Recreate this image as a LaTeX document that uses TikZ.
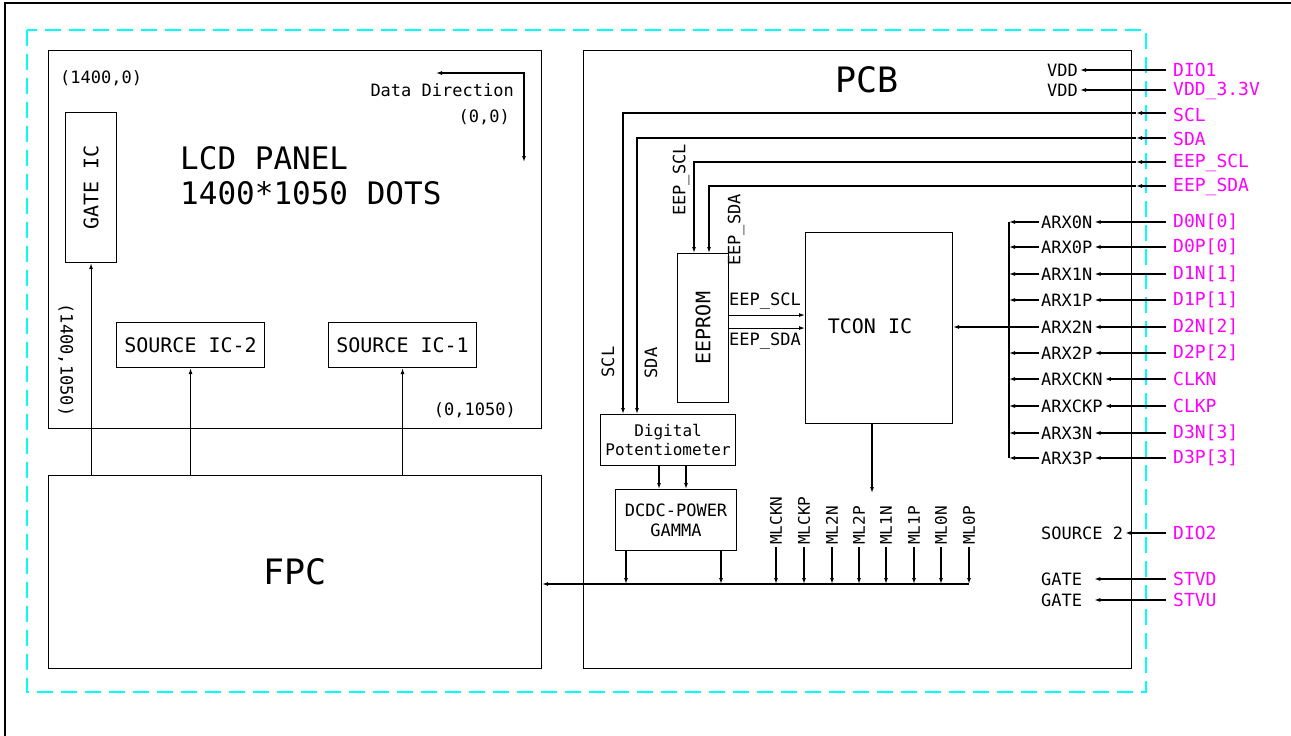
\documentclass[tikz,border=0pt]{standalone}
\usepackage{fontspec}
\newfontfamily\cadf{DejaVu Sans Mono}
\usetikzlibrary{arrows.meta,calc}
\definecolor{cadcyan}{RGB}{0,255,255}
\definecolor{cadmag}{RGB}{255,0,255}
\tikzset{
  box/.style={draw, line width=1.1pt, inner sep=0pt, anchor=north west},
  wire/.style={line width=1.1pt},
  arr/.style={wire, -{Latex[length=6pt,width=4pt]}},
  darr/.style={wire, {Latex[length=6pt,width=4pt]}-{Latex[length=6pt,width=4pt]}},
  ts/.style={font=\cadf\fontsize{16}{19}\selectfont, inner sep=2pt},
  tm/.style={font=\cadf\fontsize{17}{20}\selectfont, inner sep=2pt},
  tb/.style={font=\cadf\fontsize{20}{23}\selectfont, inner sep=2pt},
  tl/.style={font=\cadf\fontsize{31}{34}\selectfont, inner sep=0pt},
  tx/.style={font=\cadf\fontsize{35}{38}\selectfont, inner sep=0pt},
  mag/.style={font=\cadf\fontsize{18}{21}\selectfont, text=cadmag, inner sep=2pt, anchor=west},
}
\begin{document}
\begin{tikzpicture}[x=1pt,y=-1pt]
\useasboundingbox (0,0) rectangle (1291,736);
% outer frame and dashed outline
\draw[line width=1.6pt] (5,740) -- (5,3) -- (1295,3);
\draw[cadcyan, line width=1.4pt, dash pattern=on 16pt off 8pt] (27,30) rectangle (1146,692);

% ---------- LCD panel ----------
\node[box, minimum width=493pt, minimum height=378pt] (lcd) at (48,50) {};
\node[tm, anchor=west] (c1) at (58,78) {(1400,0)};
\node[tm, anchor=east] (dd) at (516,90) {Data Direction};
\node[tm, anchor=east] (c2) at (512,117) {(0,0)};
\coordinate (dd1) at (436,73);
\coordinate (dd2) at (524,73);
\coordinate (dd3) at (524,162);
\draw[darr] (dd1) -- (dd2) -- (dd3);
\node[tl, anchor=west] (lcdt1) at (180,158) {LCD PANEL};
\node[tl, anchor=west] (lcdt2) at (180,193) {1400*1050 DOTS};
\node[tm, rotate=-90] (c3) at (66,360) {(1400,1050)};
\node[tm, anchor=east] (c4) at (518,410) {(0,1050)};

\node[box, minimum width=51pt, minimum height=150pt] (gate) at (65,112) {};
\node[tb, rotate=90] (gatet) at (gate.center) {GATE IC};
\node[box, minimum width=148pt, minimum height=45pt] (sic2) at (116,322) {};
\node[tb] (sic2t) at (sic2.center) {SOURCE IC-2};
\node[box, minimum width=148pt, minimum height=45pt] (sic1) at (328,322) {};
\node[tb] (sic1t) at (sic1.center) {SOURCE IC-1};

% ---------- FPC ----------
\node[box, minimum width=493pt, minimum height=193pt] (fpc) at (48,475) {};
\node[tx] (fpct) at (fpc.center) {FPC};
\draw[arr] (gate.south |- fpc.north) -- (gate.south);
\draw[arr] (sic2.south |- fpc.north) -- (sic2.south);
\draw[arr] (sic1.south |- fpc.north) -- (sic1.south);

% ---------- PCB ----------
\node[box, minimum width=548pt, minimum height=618pt] (pcb) at (583,50) {};
\node[tx] (pcbt) at (867,80) {PCB};

\node[box, minimum width=51pt, minimum height=149pt] (eeprom) at (677,253) {};
\node[tb, rotate=90] (eepromt) at (eeprom.center) {EEPROM};
\node[box, minimum width=147pt, minimum height=191pt] (tcon) at (805,232) {};
\node[tb] (tcont) at (870,326) {TCON IC};
\node[box, minimum width=135pt, minimum height=51pt] (dpot) at (600,414) {};
\node[ts, align=center] (dpott) at (dpot.center) {Digital\\Potentiometer};
\node[box, minimum width=121pt, minimum height=61pt] (dcdc) at (615,489) {};
\node[tm, align=center] (dcdct) at (dcdc.center) {DCDC-POWER\\GAMMA};

% magenta connector labels
\node[mag] (mD1) at (1171,70) {DIO1};
\node[mag] (mV33) at (1171,91) {VDD\_3.3V};
\node[mag] (mSCL) at (1171,115) {SCL};
\node[mag] (mSDA) at (1171,139) {SDA};
\node[mag] (mESCL) at (1171,163) {EEP\_SCL};
\node[mag] (mESDA) at (1171,187) {EEP\_SDA};

% VDD
\node[tm, anchor=east] (vdd1) at (1080,70) {VDD};
\node[tm, anchor=east] (vdd2) at (1080,90) {VDD};
\draw[arr] ([xshift=-5pt]mD1.west) -- (vdd1.east);
\draw[arr] ([xshift=-5pt]mV33.west |- vdd2.east) -- (vdd2.east);

% I2C lines
\coordinate (eSCL) at (1136,113);
\coordinate (eSDA) at (1136,138);
\coordinate (eESCL) at (1136,162);
\coordinate (eESDA) at (1136,186);
\coordinate (kSCL) at (623,113);
\coordinate (kSDA) at (637,138);
\coordinate (kESCL) at (694,162);
\coordinate (kESDA) at (709,186);
\draw[arr] ([xshift=-5pt]mSCL.west |- eSCL) -- (eSCL);
\draw[arr] (eSCL) -- (kSCL) -- (kSCL |- dpot.north);
\draw[arr] ([xshift=-5pt]mSDA.west |- eSDA) -- (eSDA);
\draw[arr] (eSDA) -- (kSDA) -- (kSDA |- dpot.north);
\draw[arr] ([xshift=-5pt]mESCL.west |- eESCL) -- (eESCL);
\draw[arr] (eESCL) -- (kESCL) -- (kESCL |- eeprom.north);
\draw[arr] ([xshift=-5pt]mESDA.west |- eESDA) -- (eESDA);
\draw[arr] (eESDA) -- (kESDA) -- (kESDA |- eeprom.north);
\node[tm, rotate=90] (lSCL) at (608,362) {SCL};
\node[tm, rotate=90] (lSDA) at (651,363) {SDA};
\node[tm, rotate=90] (lESCL) at (681,180) {EEP\_SCL};
\node[tm, rotate=90] (lESDA) at (736,230) {EEP\_SDA};

% EEPROM -> TCON
\draw[arr] ([yshift=13pt]eeprom.east) -- ([yshift=13pt]eeprom.east -| tcon.west);
\draw[arr] (eeprom.east) -- (eeprom.east -| tcon.west);
\node[tm, anchor=south west] (lE1) at (727,312) {EEP\_SCL};
\node[tm, anchor=north west] (lE2) at (727,331) {EEP\_SDA};

% LVDS inputs
\coordinate (busT) at (1009,222);
\coordinate (busB) at (1009,458);
\draw[wire] (busT) -- (busB);
\foreach \y/\a/\m [count=\i] in {222/ARX0N/{D0N[0]}, 247/ARX0P/{D0P[0]}, 274/ARX1N/{D1N[1]}, 300/ARX1P/{D1P[1]}, 327/ARX2N/{D2N[2]}, 353/ARX2P/{D2P[2]}, 379/ARXCKN/{CLKN}, 406/ARXCKP/{CLKP}, 433/ARX3N/{D3N[3]}, 458/ARX3P/{D3P[3]}}{
  \node[tm, anchor=west] (arx\i) at (1039,\y) {\a};
  \node[mag] (mx\i) at (1171,\y) {\m};
  \draw[arr] ([xshift=-5pt]mx\i.west) -- (arx\i.east);
}
\foreach \i in {1,2,3,4,6,7,8,9,10}{
  \draw[arr] (arx\i.west) -- (busT |- arx\i.west);
}
\draw[arr] (arx5.west) -- (tcon.east |- arx5.west);

% source / gate
\node[tm, anchor=west] (src2) at (1039,533) {SOURCE 2};
\node[mag] (mDIO2) at (1171,533) {DIO2};
\draw[arr] ([xshift=-5pt]mDIO2.west) -- (src2.east);
\node[tm, anchor=west] (g1) at (1039,579) {GATE};
\node[mag] (mSTVD) at (1171,579) {STVD};
\draw[arr, shorten >=10pt] ([xshift=-5pt]mSTVD.west) -- (g1.east);
\node[tm, anchor=west] (g2) at (1039,600) {GATE};
\node[mag] (mSTVU) at (1171,600) {STVU};
\draw[arr, shorten >=10pt] ([xshift=-5pt]mSTVU.west) -- (g2.east);

% bus to FPC
\coordinate (busR) at (969,584);
\draw[arr] (busR) -- (fpc.east |- busR);
\draw[arr] ([xshift=11pt]dcdc.south west) -- ([xshift=11pt]dcdc.south west |- busR);
\draw[arr] ([xshift=106pt]dcdc.south west) -- ([xshift=106pt]dcdc.south west |- busR);
\draw[arr] ([xshift=59pt]dpot.south west) -- ([xshift=59pt]dpot.south west |- dcdc.north);
\draw[arr] ([xshift=86pt]dpot.south west) -- ([xshift=86pt]dpot.south west |- dcdc.north);
\coordinate (tconEnd) at (872,493);
\draw[arr] (tcon.south -| tconEnd) -- (tconEnd);
\foreach \x/\t in {776/MLCKN, 804/MLCKP, 832/ML2N, 859/ML2P, 886/ML1N, 914/ML1P, 941/ML0N, 969/ML0P}{
  \node[ts, rotate=90, anchor=west] (ml\t) at (\x,547) {\t};
  \draw[arr] (ml\t.west) -- (ml\t.west |- busR);
}
\end{tikzpicture}
\end{document}
